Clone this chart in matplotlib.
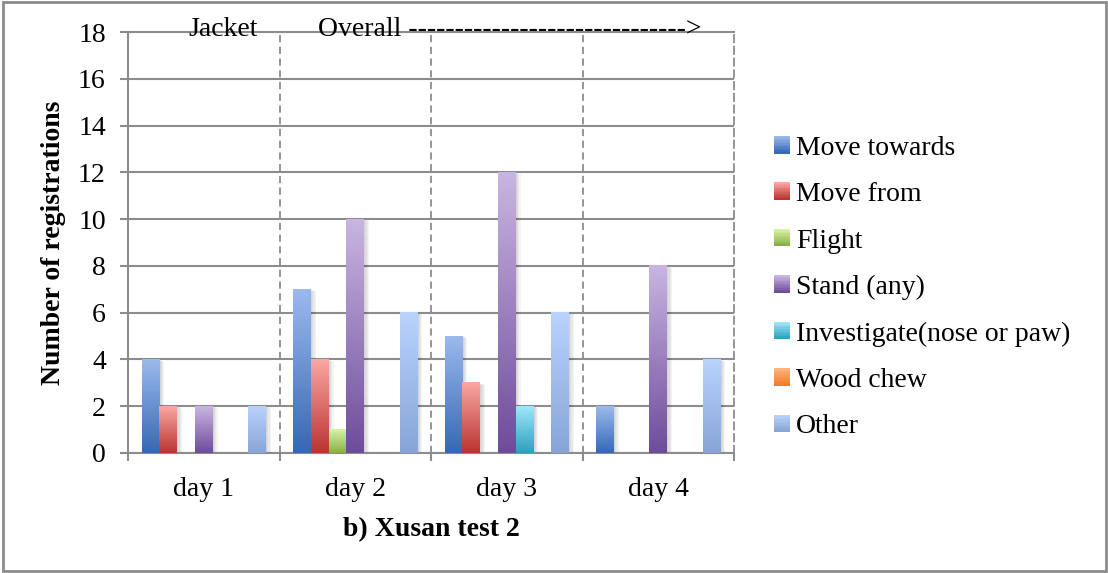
import numpy as np
import matplotlib
matplotlib.use('Agg')
import matplotlib.pyplot as plt
from matplotlib.patches import Rectangle
from matplotlib.legend_handler import HandlerBase
from matplotlib.colors import to_rgb
from matplotlib.transforms import offset_copy

days = ['day 1', 'day 2', 'day 3', 'day 4']
behaviours = ['Move towards', 'Move from', 'Flight', 'Stand (any)',
              'Investigate(nose or paw)', 'Wood chew', 'Other']
move_towards = [4, 7, 5, 2]
move_from = [2, 4, 3, 0]
flight = [0, 1, 0, 0]
stand = [2, 10, 12, 8]
investigate = [0, 0, 2, 0]
wood_chew = [0, 0, 0, 0]
other = [2, 6, 6, 4]
series = [move_towards, move_from, flight, stand, investigate, wood_chew, other]

# (top, bottom) colours of each bar's vertical gradient
shades = [('#9bb9ed', '#3569b4'),
          ('#f9a7a3', '#bb3431'),
          ('#d8f3a8', '#8aaf48'),
          ('#c8b5e1', '#6e4c9b'),
          ('#a0e6fa', '#2f9fbf'),
          ('#fbb582', '#f27c2b'),
          ('#b9d3fd', '#87a5d6')]

GRID = '#8c8c8c'
FS = 20
plt.rcParams['font.family'] = ['Liberation Serif', 'DejaVu Serif']


def ramp(top, bottom, n=64):
    t = np.linspace(0, 1, n)[:, None]
    a, b = np.array(to_rgb(top)), np.array(to_rgb(bottom))
    return (a * (1 - t) + b * t)[:, None, :]


class GradientHandler(HandlerBase):
    def __init__(self, top, bottom):
        super().__init__()
        self.top, self.bottom = top, bottom

    def create_artists(self, legend, orig_handle, xdescent, ydescent,
                       width, height, fontsize, trans):
        n = 12
        cols = ramp(self.top, self.bottom, n)[:, 0, :]
        out = []
        for k in range(n):
            y0 = -ydescent + height * (1 - (k + 1) / n)
            out.append(Rectangle((-xdescent, y0), width, height / n + 0.3,
                                 facecolor=cols[k], edgecolor='none',
                                 transform=trans))
        return out


fig = plt.figure(figsize=(11.08, 5.73), dpi=100)
ax = fig.add_axes([128 / 1108, 120 / 573, 606 / 1108, 421 / 573])

x = np.arange(1, len(days) + 1)
slot = 0.117
for i, vals in enumerate(series):
    bars = ax.bar(x + (i - 3) * slot, vals, slot, color='none',
                  edgecolor='none', zorder=3)
    for r in bars:
        h = r.get_height()
        if h <= 0:
            continue
        x0, w = r.get_x(), r.get_width()
        # soft shadow to the right
        for k in range(1, 5):
            sh = Rectangle((x0, 0), w, h, facecolor='black', alpha=0.045,
                           edgecolor='none', zorder=2,
                           transform=offset_copy(ax.transData, fig,
                                                 x=k * 0.9, y=-k * 0.3,
                                                 units='points'))
            ax.add_patch(sh)
        ax.imshow(ramp(*shades[i]), extent=(x0, x0 + w, 0, h),
                  aspect='auto', interpolation='bilinear', zorder=3)

ax.set_xlim(0.5, 4.5)
ax.set_ylim(0, 18)
ax.set_yticks(np.arange(0, 19, 2))
ax.set_xticks(x)
ax.set_xticklabels(days)
ax.set_xticks(np.arange(0.5, 4.6, 1), minor=True)
ax.tick_params(axis='x', which='major', length=0, pad=17, labelsize=FS)
ax.tick_params(axis='x', which='minor', length=6, width=1.5, color=GRID,
               direction='out')
ax.tick_params(axis='y', length=6, width=1.5, color=GRID, pad=10,
               labelsize=FS, direction='out')

ax.yaxis.grid(True, color=GRID, lw=1.5, zorder=1)
for xv in (1.5, 2.5, 3.5):
    ax.axvline(xv, color=GRID, lw=1.3, ls=(0, (4, 2.5)), zorder=1)
ax.set_axisbelow(True)
for side in ('left', 'bottom', 'top'):
    ax.spines[side].set_color(GRID)
    ax.spines[side].set_linewidth(1.5)
ax.spines['right'].set_color(GRID)
ax.spines['right'].set_linewidth(1.3)
ax.spines['right'].set_linestyle((0, (4, 2.5)))

ax.set_ylabel('Number of registrations', fontsize=FS, fontweight='bold',
              labelpad=9)
ax.set_xlabel('b) Xusan test 2', fontsize=FS, fontweight='bold', labelpad=11)

ax.text(1.127, 17.83, 'Jacket', fontsize=FS, ha='center', va='baseline')
ax.text(1.754, 17.83, 'Overall ' + '-' * 30 + '>', fontsize=FS,
        ha='left', va='baseline')

handles = [Rectangle((0, 0), 1, 1) for _ in behaviours]
ax.legend(handles, behaviours, loc='center left',
          bbox_to_anchor=(1.025, 0.393), frameon=False, fontsize=FS,
          handlelength=0.58, handleheight=0.58, handletextpad=0.22,
          labelspacing=0.77,
          handler_map={h: GradientHandler(*shades[i])
                       for i, h in enumerate(handles)})

fig.patches.append(Rectangle((3 / 1108, 2 / 573), 1103 / 1108, 569 / 573,
                             transform=fig.transFigure, fill=False,
                             edgecolor=GRID, lw=2))

fig.savefig('out.png', dpi=100)
